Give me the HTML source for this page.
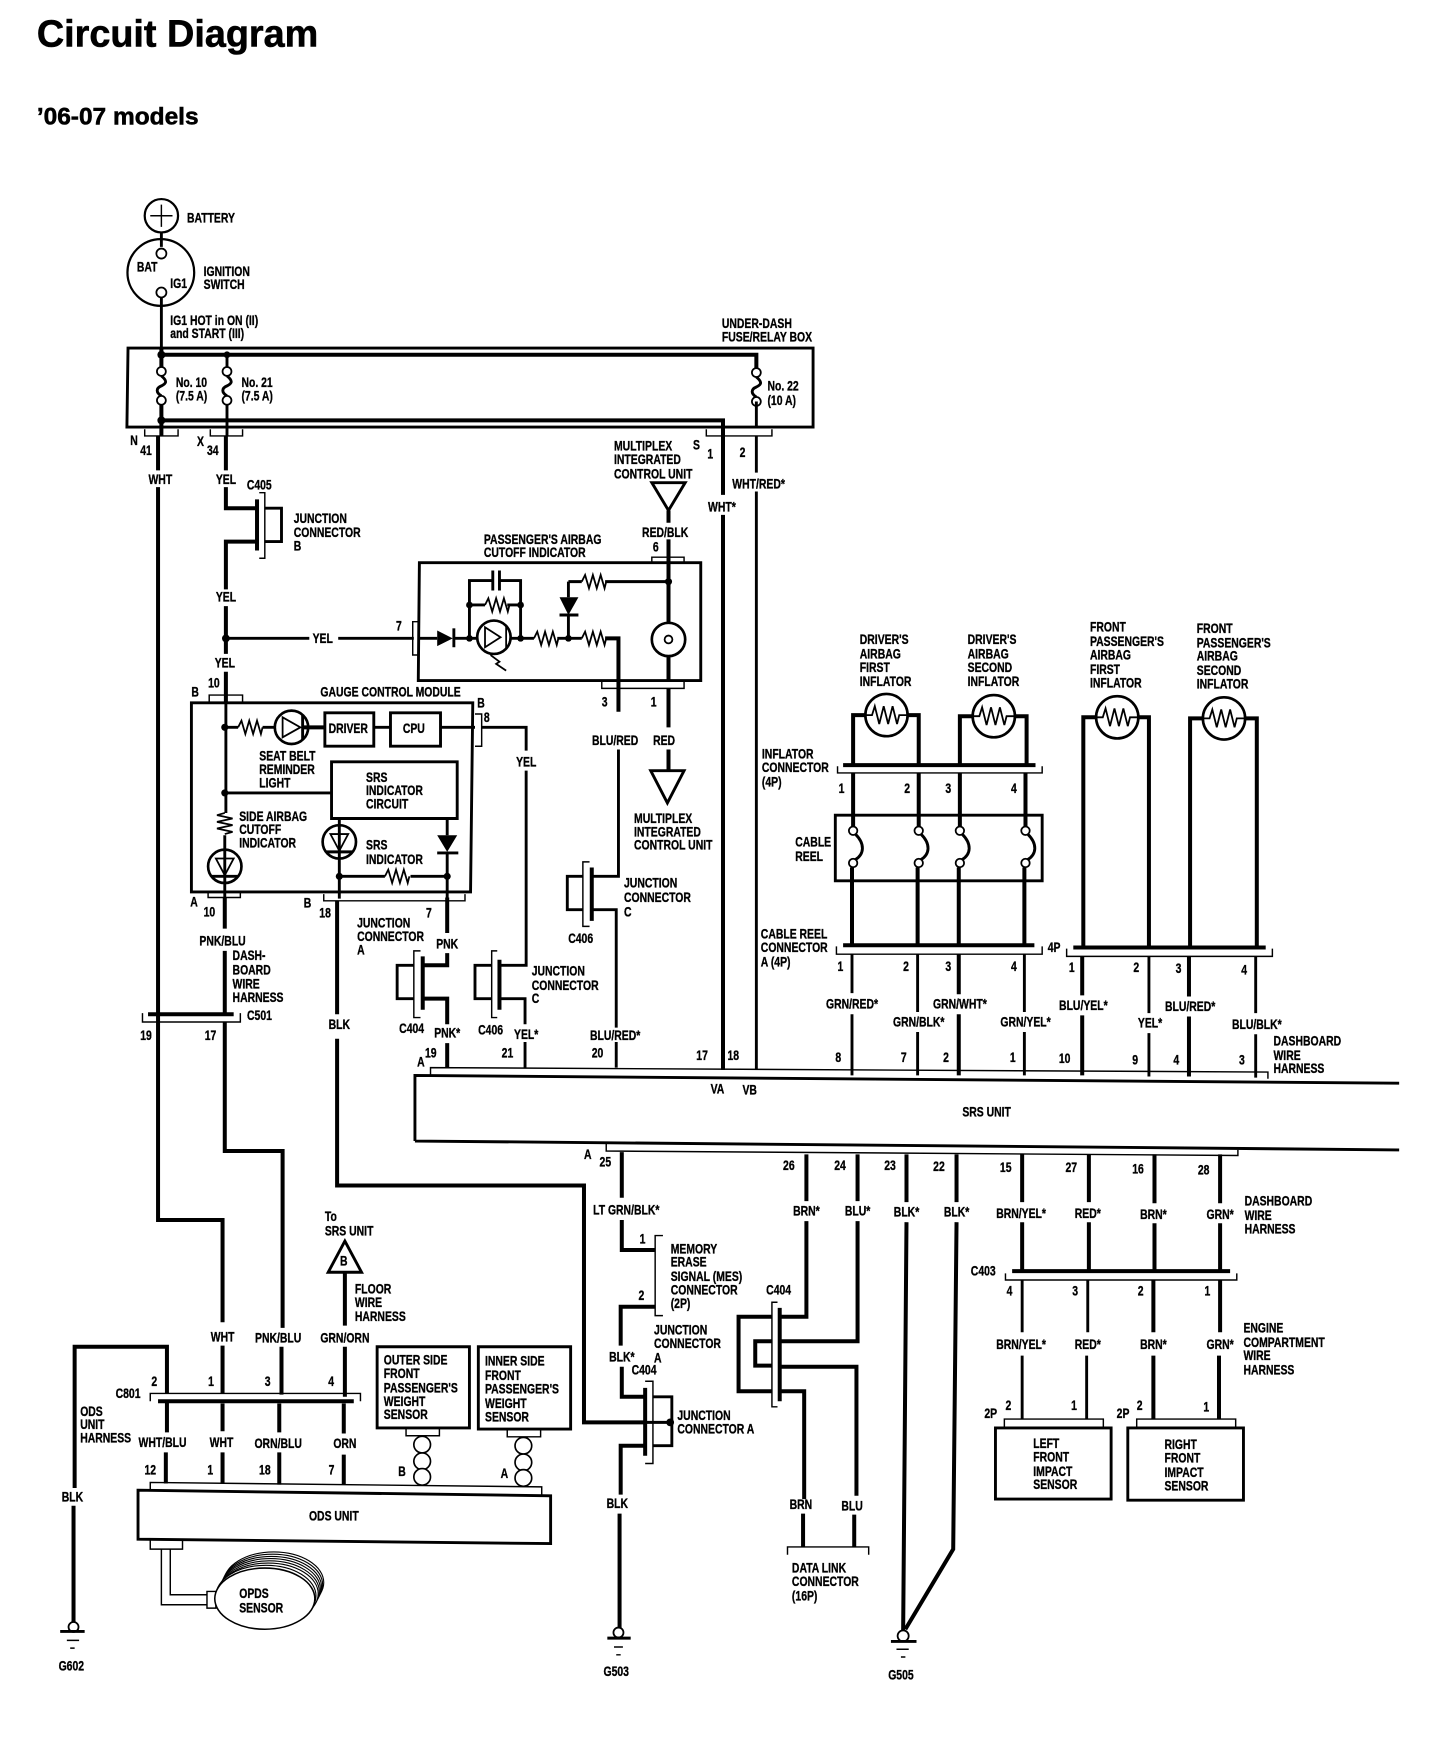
<!DOCTYPE html>
<html><head><meta charset="utf-8"><title>Circuit Diagram</title>
<style>
html,body{margin:0;padding:0;background:#fff}
svg{display:block}
text{font-family:"Liberation Sans",sans-serif;font-weight:700;font-size:12.5px;fill:#000;dominant-baseline:central;stroke:#000;stroke-width:.3px;transform-box:fill-box;transform-origin:0% 50%;transform:scaleX(.75)}
.m{text-anchor:middle;transform-origin:50% 50%}
.h{stroke-width:.5px;transform:none}
.w,.b,.t,.z{fill:none;stroke:#000}
.w{stroke-width:3.6}
.b{stroke-width:2.6}
.t{stroke-width:1.3}
.z{stroke-width:1.6}
.c{fill:#fff;stroke:#000;stroke-width:1.6}
.d{fill:#000;stroke:none}
</style></head><body>
<svg xmlns="http://www.w3.org/2000/svg" width="1456" height="1746" viewBox="0 0 1309 1570">
<defs>
<path id="r" class="z" d="M0 0l3-6 3.5 12 3.5-12 3.5 12 3.5-12 3.5 12 1.5-6"/>
<g id="f"><path class="b" d="M0 4C6 9 4 11 0 13C-5 15-5 19 0 22"/><circle class="c" r="4"/><circle class="c" cy="26" r="4"/></g>
<g id="l"><path class="b" d="M2 3C11 12 10 21 2 26"/><circle class="c" r="3.8"/><circle class="c" cy="29" r="3.8"/></g>
<g id="v"><circle r="15" fill="#fff" stroke="#000" stroke-width="2.4"/><path class="z" d="M-8-7H8L0 8Z"/><path class="b" d="M-12 9H12M0-15V15"/></g>
<g id="i"><circle r="19" fill="#fff" stroke="#000" stroke-width="2.4"/><path class="z" d="M-19 0H-13l2.500-8 4 16 4-16 4 16 4-16 4 16 2-8H19"/></g>
</defs>
<rect width="1309" height="1570" fill="#fff"/>

<!-- headings -->
<text class="h" x="33" y="31" style="font-size:34px">Circuit Diagram</text>
<text class="h" x="33" y="105" style="font-size:22px">’06-07 models</text>

<!-- battery and ignition -->
<circle class="z" cx="145" cy="194" r="15" style="stroke-width:2"/>
<path class="t" d="M145 184V204M135 194H155"/>
<ellipse class="z" cx="144.500" cy="245" rx="30" ry="30" style="stroke-width:2"/>
<path class="b" d="M145 209V222M145 265V313"/>
<circle class="c" cx="145" cy="228" r="4.500"/><circle class="c" cx="145" cy="263" r="4.500"/>
<text x="168" y="196">BATTERY</text>
<text x="123" y="240">BAT</text><text x="153" y="255">IG1</text>
<text x="183" y="244">IGNITION</text><text x="183" y="256">SWITCH</text>
<text x="153" y="288">IG1 HOT in ON (II)</text><text x="153" y="300">and START (III)</text>
<text x="649" y="291">UNDER-DASH</text><text x="649" y="303">FUSE/RELAY BOX</text>

<!-- under-dash box -->
<path class="b" d="M115 313H731V384H114Z"/>
<path class="w" d="M145 319H680V334M145 378H650V445M145 313V334M145 360V392"/>
<path class="b" d="M204 319V334M204 360V392"/>
<circle class="d" cx="145" cy="319" r="3.600"/><circle class="d" cx="204" cy="319" r="3"/><circle class="d" cx="145" cy="378" r="3.600"/>
<use href="#f" x="145" y="334"/><use href="#f" x="204" y="334"/><use href="#f" x="680" y="335"/>
<path class="b" d="M680 361V384"/>
<text x="158" y="344">No. 10</text><text x="158" y="356">(7.5 A)</text>
<text x="217" y="344">No. 21</text><text x="217" y="356">(7.5 A)</text>
<text x="690" y="347">No. 22</text><text x="690" y="360">(10 A)</text>
<path class="t" d="M130 386V392H160V386M189 386V392H218V386M635 386V392H694V386"/>
<text x="117" y="396">N</text><text x="126" y="405">41</text><text x="177" y="397">X</text><text x="186" y="405">34</text>
<text x="623" y="400">S</text><text x="636" y="408">1</text><text x="665" y="407">2</text>

<!-- main drop wires -->
<path class="w" d="M142 392V423M142 438V1097H200V1189M200 1210V1253M200 1262V1287M200 1306V1334"/>
<path class="w" d="M203 392V423M203 438V457H231M231 487H203V530M203 545V588M203 604V632"/>
<path class="w" d="M231 449V495"/><path class="t" d="M233 443H238V502H233"/><path class="b" d="M238 457H253V487H238"/>
<text class="m" x="144" y="431">WHT</text><text class="m" x="203" y="431">YEL</text>
<text class="m" x="233" y="436">C405</text>
<text x="264" y="466">JUNCTION</text><text x="264" y="479">CONNECTOR</text><text x="264" y="491">B</text>
<text class="m" x="203" y="537">YEL</text><text class="m" x="290" y="574">YEL</text><text class="m" x="202" y="596">YEL</text>
<circle class="d" cx="203" cy="574" r="3.500"/>
<path class="b" d="M203 574H278M304 574H372"/>
<path class="t" d="M376 559H371V589H376"/><text x="356" y="563">7</text>

<!-- multiplex top -->
<text x="552" y="401">MULTIPLEX</text><text x="552" y="413">INTEGRATED</text><text x="552" y="426">CONTROL UNIT</text>
<path class="b" d="M586 434H616L601 459Z"/><path class="w" d="M601 459V470M601 485V507"/>
<text class="m" x="598" y="479">RED/BLK</text><text x="587" y="492">6</text>
<path class="t" d="M586 507V501H615V507"/>
<text x="435" y="485">PASSENGER'S AIRBAG</text><text x="435" y="497">CUTOFF INDICATOR</text>
<text class="m" x="649" y="456">WHT*</text><text class="m" x="682" y="435">WHT/RED*</text>
<path class="w" d="M650 463V962"/><path class="b" d="M680 392V425M680 442V962"/>

<!-- passenger airbag indicator -->
<path class="b" d="M377 506H630V612H376Z"/>
<path class="b" d="M377 574H393M408 574H429M422 574V522H443M449 522H468V574M459 574H480"/>
<path class="d" d="M393 567L407 574L393 581Z"/><path class="b" d="M408 565V582"/>
<path class="b" d="M443 513V531M449 513V531"/>
<use href="#r" x="436" y="544"/><path class="b" d="M422 544H436M456 544H468"/>
<circle class="d" cx="422" cy="544" r="3"/><circle class="d" cx="468" cy="544" r="3"/><circle class="d" cx="422" cy="574" r="3"/><circle class="d" cx="468" cy="574" r="3"/>
<circle cx="444" cy="573" r="15" fill="#fff" stroke="#000" stroke-width="2.400"/>
<path class="z" d="M436 564L450 573L436 582ZM455 562V584"/>
<path class="z" d="M441 589L449 595L446 597L455 603"/>
<use href="#r" x="480" y="574"/><path class="b" d="M501 574H523"/><circle class="d" cx="511" cy="574" r="3"/>
<use href="#r" x="523" y="574"/><path class="w" d="M544 574H556V640"/>
<path class="b" d="M511 574V552M511 523V537M511 523H523M544 523H601"/>
<use href="#r" x="523" y="523"/>
<path class="d" d="M503 537H520L511 553Z"/><path class="b" d="M503 553H520"/>
<circle class="d" cx="601" cy="523" r="3.200"/>
<path class="w" d="M601 507V560M601 590V612"/>
<circle cx="601" cy="575" r="15" fill="#fff" stroke="#000" stroke-width="2.400"/>
<circle cx="601" cy="575" r="3.500" fill="#fff" stroke="#000" stroke-width="1.600"/>
<path class="t" d="M541 613V619H615V613"/>
<path class="w" d="M601 619V654M601 674V693"/>
<text x="541" y="631">3</text><text x="585" y="631">1</text>
<text class="m" x="553" y="666">BLU/RED</text><text class="m" x="597" y="666">RED</text>
<path class="b" d="M585 693H615L600 722Z"/>
<text x="570" y="736">MULTIPLEX</text><text x="570" y="748">INTEGRATED</text><text x="570" y="760">CONTROL UNIT</text>
<path class="b" d="M556 674V788H532M532 818H554V924M554 937V960"/>
<path class="w" d="M532 780V828"/><path class="t" d="M530 775H524V833H530"/><path class="b" d="M524 788H510V818H524"/>
<text x="561" y="794">JUNCTION</text><text x="561" y="807">CONNECTOR</text><text x="561" y="820">C</text>
<text class="m" x="522" y="844">C406</text>
<text class="m" x="553" y="931">BLU/RED*</text>

<!-- gauge control module -->
<text x="288" y="622">GAUGE CONTROL MODULE</text>
<path class="b" d="M172 632H425L423 802H172Z"/>
<path class="t" d="M188 631V625H218V631"/>
<text x="172" y="622">B</text><text x="187" y="614">10</text>
<path class="b" d="M203 625V731M202 751V765M202 793V807"/>
<circle class="d" cx="202" cy="654" r="3.200"/><circle class="d" cx="202" cy="713" r="3.200"/>
<use href="#r" x="214" y="654"/><path class="b" d="M202 654H214M236 654H247"/>
<circle cx="262" cy="654" r="15" fill="#fff" stroke="#000" stroke-width="2.400"/>
<path class="z" d="M254 645L270 654L254 663Z"/><path class="b" d="M272 643V665"/>
<path class="w" d="M272 654H292"/>
<path class="b" d="M292 641H336V671H292ZM351 641H396V671H351ZM336 654H351M396 654H427M433 654H473V675M473 693V868H449"/>
<text class="m" x="313" y="655">DRIVER</text><text class="m" x="372" y="655">CPU</text>
<path class="t" d="M427 642H433V671H427"/>
<text x="429" y="632">B</text><text x="435" y="645">8</text>
<text class="m" x="473" y="685">YEL</text>
<text x="233" y="680">SEAT BELT</text><text x="233" y="692">REMINDER</text><text x="233" y="704">LIGHT</text>
<path class="b" d="M202 713H298"/>
<path class="b" d="M298 685H411V736H298Z"/>
<text x="329" y="699">SRS</text><text x="329" y="711">INDICATOR</text><text x="329" y="723">CIRCUIT</text>
<path class="z" d="M202 731l-7 2 14 3-14 3 14 3-14 3 14 3-7 2"/>
<text x="215" y="734">SIDE AIRBAG</text><text x="215" y="746">CUTOFF</text><text x="215" y="758">INDICATOR</text>
<use href="#v" x="202" y="779"/>
<use href="#v" x="305" y="757"/>
<path class="b" d="M305 736V742M305 772V808"/>
<path class="b" d="M402 736V751M402 767V807"/>
<path class="d" d="M393 751H411L402 766Z"/><path class="b" d="M393 767H412"/>
<path class="b" d="M305 788H346M369 788H402"/><use href="#r" x="346" y="788"/>
<circle class="d" cx="305" cy="788" r="3.200"/><circle class="d" cx="402" cy="788" r="3.200"/>
<text x="329" y="760">SRS</text><text x="329" y="773">INDICATOR</text>
<path class="t" d="M187 802V807H216V802M291 804V810H418V804"/>
<text x="171" y="811">A</text><text x="183" y="820">10</text><text x="273" y="812">B</text><text x="287" y="821">18</text>
<path class="w" d="M202 807V835M202 855V912M202 919V1035H254V1194M253 1211V1254M251 1262V1288M251 1306V1335"/>
<text class="m" x="200" y="846">PNK/BLU</text>
<text x="209" y="859">DASH-</text><text x="209" y="872">BOARD</text><text x="209" y="885">WIRE</text><text x="209" y="897">HARNESS</text>
<path class="w" d="M133 912H210"/><path class="t" d="M128 911V919H216V911"/>
<text x="222" y="913">C501</text><text x="126" y="931">19</text><text x="184" y="931">17</text>

<!-- BLK long wire -->
<path class="w" d="M303 810V912M303 934V1066H525V1279H580"/>
<text class="m" x="305" y="921">BLK</text>
<text x="321" y="830">JUNCTION</text><text x="321" y="842">CONNECTOR</text><text x="321" y="854">A</text>
<text x="383" y="821">7</text>

<!-- C404 left -->
<path class="w" d="M402 807V839M402 857V868H380M380 898H402V921M402 938V960"/>
<text class="m" x="402" y="849">PNK</text><text class="m" x="402" y="929">PNK*</text>
<path class="w" d="M380 860V908"/><path class="t" d="M378 855H372V915H378"/><path class="b" d="M372 868H357V898H372"/>
<text class="m" x="370" y="925">C404</text>
<!-- C406 mid -->
<path class="w" d="M449 863V908"/><path class="t" d="M447 855H442V915H447"/><path class="b" d="M442 868H427V898H442"/>
<path class="b" d="M449 898H472V921M472 937V960"/>
<text class="m" x="441" y="926">C406</text><text class="m" x="473" y="930">YEL*</text>
<text x="478" y="873">JUNCTION</text><text x="478" y="886">CONNECTOR</text><text x="478" y="898">C</text>

<!-- SRS unit -->
<path class="b" d="M373 1026V967L1258 974M373 1026L1258 1034"/>
<path class="t" d="M387 967V960L1140 964V970M545 1027V1035L1113 1039V1034"/>
<text x="375" y="955">A</text><text x="382" y="947">19</text><text x="451" y="947">21</text><text x="532" y="947">20</text><text x="626" y="949">17</text><text x="654" y="949">18</text>
<text class="m" x="645" y="979">VA</text><text class="m" x="674" y="980">VB</text><text class="m" x="887" y="1000">SRS UNIT</text>
<text x="751" y="951">8</text><text x="810" y="951">7</text><text x="848" y="951">2</text><text x="908" y="951">1</text><text x="952" y="952">10</text><text x="1018" y="953">9</text><text x="1055" y="953">4</text><text x="1114" y="953">3</text>

<!-- inflators -->
<text x="773" y="575">DRIVER'S</text><text x="773" y="588">AIRBAG</text><text x="773" y="600">FIRST</text><text x="773" y="613">INFLATOR</text>
<text x="870" y="575">DRIVER'S</text><text x="870" y="588">AIRBAG</text><text x="870" y="600">SECOND</text><text x="870" y="613">INFLATOR</text>
<text x="980" y="564">FRONT</text><text x="980" y="577">PASSENGER'S</text><text x="980" y="589">AIRBAG</text><text x="980" y="602">FIRST</text><text x="980" y="614">INFLATOR</text>
<text x="1076" y="565">FRONT</text><text x="1076" y="578">PASSENGER'S</text><text x="1076" y="590">AIRBAG</text><text x="1076" y="603">SECOND</text><text x="1076" y="615">INFLATOR</text>
<path class="w" d="M767 688V643H826V688M863 688V644H923V688M974 852V645H1033V852M1070 852V646H1130V852"/>
<use href="#i" x="797" y="643"/><use href="#i" x="893.500" y="644"/><use href="#i" x="1004.500" y="645"/><use href="#i" x="1100.500" y="646"/>
<path class="w" d="M758 688H931"/><path class="t" d="M753 689V695H937V689"/>
<text x="685" y="678">INFLATOR</text><text x="685" y="690">CONNECTOR</text><text x="685" y="703">(4P)</text>
<text x="754" y="709">1</text><text x="813" y="709">2</text><text x="850" y="709">3</text><text x="909" y="709">4</text>
<path class="w" d="M767 695V746M826 695V746M863 695V746M922 695V746"/>
<path class="b" d="M751 733H937V792H751Z"/>
<use href="#l" x="767" y="747"/><use href="#l" x="826" y="747"/><use href="#l" x="863" y="747"/><use href="#l" x="922" y="747"/>
<text x="715" y="757">CABLE</text><text x="715" y="770">REEL</text>
<path class="w" d="M766 780V850M825 780V850M862 780V850M921 780V850"/>
<path class="w" d="M758 850H930M965 852H1138"/>
<path class="t" d="M752 851V858H937V851M959 853V860H1144V853"/>
<text x="684" y="840">CABLE REEL</text><text x="684" y="852">CONNECTOR</text><text x="684" y="865">A (4P)</text>
<text x="942" y="852">4P</text>
<text x="753" y="869">1</text><text x="812" y="869">2</text><text x="850" y="869">3</text><text x="909" y="869">4</text><text x="961" y="870">1</text><text x="1019" y="870">2</text><text x="1057" y="871">3</text><text x="1116" y="872">4</text>
<path class="b" d="M766 858V893M766 912V967M825 858V910M825 928V967M921 858V910M921 928V967M1033 860V911M1033 929V968M1129 860V911M1129 930V969"/>
<path class="w" d="M862 858V894M862 912V967M973 860V895M973 913V967M1069 860V896M1069 914V968"/>
<text class="m" x="766" y="903">GRN/RED*</text><text class="m" x="826" y="919">GRN/BLK*</text><text class="m" x="863" y="903">GRN/WHT*</text><text class="m" x="922" y="919">GRN/YEL*</text>
<text class="m" x="974" y="904">BLU/YEL*</text><text class="m" x="1034" y="920">YEL*</text><text class="m" x="1070" y="905">BLU/RED*</text><text class="m" x="1130" y="921">BLU/BLK*</text>
<text x="1145" y="936">DASHBOARD</text><text x="1145" y="949">WIRE</text><text x="1145" y="961">HARNESS</text>

<!-- bottom of SRS -->
<path class="w" d="M559 1036V1077M559 1097V1124H589M589 1175H558V1210M559 1229V1256H580M580 1300H558V1344M557 1361V1466"/>
<text x="539" y="1045">25</text><text x="525" y="1038">A</text>
<text class="m" x="563" y="1088">LT GRN/BLK*</text>
<path class="t" d="M596 1111H589V1183H596"/>
<text x="575" y="1114">1</text><text x="574" y="1165">2</text>
<text x="603" y="1123">MEMORY</text><text x="603" y="1135">ERASE</text><text x="603" y="1148">SIGNAL (MES)</text><text x="603" y="1160">CONNECTOR</text><text x="603" y="1172">(2P)</text>
<text x="588" y="1196">JUNCTION</text><text x="588" y="1208">CONNECTOR</text><text x="588" y="1221">A</text>
<text class="m" x="559" y="1220">BLK*</text><text class="m" x="579" y="1232">C404</text>
<path class="w" d="M580 1248V1309"/><path class="t" d="M580 1242H587V1316H580"/>
<path class="b" d="M587 1256H604V1300H587M580 1279H604"/><circle class="d" cx="602.500" cy="1279" r="3.500"/>
<text x="609" y="1273">JUNCTION</text><text x="609" y="1285">CONNECTOR A</text>
<text class="m" x="555" y="1352">BLK</text>
<circle class="c" cx="556" cy="1468" r="4.500"/><path class="b" d="M546 1473H567"/><path class="t" d="M552 1481H560M554 1488H558"/>
<text class="m" x="554" y="1503">G503</text>

<!-- C404 right and data link -->
<text x="704" y="1048">26</text><text x="750" y="1048">24</text><text x="795" y="1048">23</text><text x="839" y="1049">22</text>
<path class="w" d="M725 1038V1080M725 1098V1184H701M771 1038V1080M771 1098V1206H701M701 1229H770V1345M701 1251H723V1348"/>
<text class="m" x="725" y="1089">BRN*</text><text class="m" x="771" y="1089">BLU*</text><text class="m" x="815" y="1090">BLK*</text><text class="m" x="860" y="1090">BLK*</text>
<path class="w" d="M701 1176V1260"/><path class="t" d="M699 1171H694V1265H699"/>
<path class="w" d="M694 1184H664V1251H694M694 1206H679V1228H694"/>
<text class="m" x="700" y="1160">C404</text>
<path class="w" d="M722 1361V1391M768 1362V1391"/>
<text class="m" x="720" y="1353">BRN</text><text class="m" x="766" y="1354">BLU</text>
<path class="t" d="M708 1398V1391H781V1398"/>
<text x="712" y="1410">DATA LINK</text><text x="712" y="1422">CONNECTOR</text><text x="712" y="1435">(16P)</text>
<path class="w" d="M815 1038V1081M815 1099L812 1466M860 1038V1081M860 1099L857 1393L814 1465"/>
<circle class="c" cx="812" cy="1471" r="5"/><path class="b" d="M801 1476H824"/><path class="t" d="M806 1483H817M810 1490H814"/>
<text class="m" x="810" y="1506">G505</text>

<!-- impact sensors -->
<text x="899" y="1050">15</text><text x="958" y="1050">27</text><text x="1018" y="1051">16</text><text x="1077" y="1052">28</text>
<path class="w" d="M919 1038V1081M919 1099V1143M979 1038V1081M979 1099V1143M1038 1038V1082M1038 1100V1143M1097 1038V1082M1097 1100V1143"/>
<text class="m" x="918" y="1091">BRN/YEL*</text><text class="m" x="978" y="1091">RED*</text><text class="m" x="1037" y="1092">BRN*</text><text class="m" x="1097" y="1092">GRN*</text>
<text x="1119" y="1080">DASHBOARD</text><text x="1119" y="1093">WIRE</text><text x="1119" y="1105">HARNESS</text>
<path class="w" d="M910 1143H1106"/><path class="t" d="M904 1145V1151H1112V1145"/>
<text class="m" x="884" y="1143">C403</text>
<text x="905" y="1161">4</text><text x="964" y="1161">3</text><text x="1023" y="1161">2</text><text x="1083" y="1161">1</text>
<path class="b" d="M919 1151V1198M919 1219V1276M978 1151V1198M977 1219V1276"/>
<path class="w" d="M1037 1151V1198M1037 1219V1276M1097 1151V1198M1096 1219V1276"/>
<text class="m" x="918" y="1209">BRN/YEL*</text><text class="m" x="978" y="1209">RED*</text><text class="m" x="1037" y="1209">BRN*</text><text class="m" x="1097" y="1209">GRN*</text>
<text x="1118" y="1194">ENGINE</text><text x="1118" y="1207">COMPARTMENT</text><text x="1118" y="1219">WIRE</text><text x="1118" y="1232">HARNESS</text>
<path class="t" d="M903 1283V1276H992V1283M1022 1283V1276H1111V1283"/>
<path class="b" d="M895 1284H999V1348H895ZM1014 1284H1118V1349H1014Z"/>
<text x="904" y="1264">2</text><text x="963" y="1264">1</text><text x="1022" y="1264">2</text><text x="1082" y="1265">1</text>
<text x="885" y="1271">2P</text><text x="1004" y="1271">2P</text>
<text x="929" y="1298">LEFT</text><text x="929" y="1310">FRONT</text><text x="929" y="1323">IMPACT</text><text x="929" y="1335">SENSOR</text>
<text x="1047" y="1299">RIGHT</text><text x="1047" y="1311">FRONT</text><text x="1047" y="1324">IMPACT</text><text x="1047" y="1336">SENSOR</text>

<!-- ODS region -->
<text x="292" y="1094">To</text><text x="292" y="1107">SRS UNIT</text>
<path class="b" d="M310 1116L325 1144H295Z"/><text class="m" x="309" y="1134">B</text>
<path class="w" d="M310 1144V1192M310 1211V1256M309 1262V1289M309 1308V1335"/>
<text x="319" y="1159">FLOOR</text><text x="319" y="1171">WIRE</text><text x="319" y="1184">HARNESS</text>
<text class="m" x="200" y="1202">WHT</text><text class="m" x="250" y="1203">PNK/BLU</text><text class="m" x="310" y="1203">GRN/ORN</text>
<path class="w" d="M67 1338V1211H150V1253M150 1261V1288M149 1306V1334"/>
<path class="w" d="M66 1354V1459"/>
<path class="t" d="M135 1260V1253H324V1260"/>
<path class="w" d="M142 1260H318"/>
<text class="m" x="115" y="1253">C801</text>
<text x="136" y="1242">2</text><text x="187" y="1242">1</text><text x="238" y="1242">3</text><text x="295" y="1242">4</text>
<text x="72" y="1269">ODS</text><text x="72" y="1281">UNIT</text><text x="72" y="1293">HARNESS</text>
<text class="m" x="146" y="1297">WHT/BLU</text><text class="m" x="199" y="1297">WHT</text><text class="m" x="250" y="1298">ORN/BLU</text><text class="m" x="310" y="1298">ORN</text>
<text class="m" x="135" y="1322">12</text><text class="m" x="189" y="1322">1</text><text class="m" x="238" y="1322">18</text><text class="m" x="298" y="1322">7</text>
<text class="m" x="65" y="1346">BLK</text>
<circle class="c" cx="66" cy="1463" r="4.500"/><path class="b" d="M54 1467H76"/><path class="t" d="M60 1475H71M63 1482H67"/>
<text class="m" x="64" y="1498">G602</text>

<path class="b" d="M339 1211H422V1284H339ZM430 1211H513V1285H430Z"/>
<text x="345" y="1223">OUTER SIDE</text><text x="345" y="1235">FRONT</text><text x="345" y="1248">PASSENGER'S</text><text x="345" y="1260">WEIGHT</text><text x="345" y="1272">SENSOR</text>
<text x="436" y="1224">INNER SIDE</text><text x="436" y="1237">FRONT</text><text x="436" y="1249">PASSENGER'S</text><text x="436" y="1262">WEIGHT</text><text x="436" y="1274">SENSOR</text>
<path class="t" d="M365 1285V1291H395V1285M456 1286V1292H486V1286"/>
<g fill="#fff" stroke="#000" stroke-width="1.500"><circle cx="379.500" cy="1299" r="7.500"/><circle cx="379.500" cy="1314" r="7.500"/><circle cx="379.500" cy="1328" r="7.500"/><circle cx="470.500" cy="1300" r="7.500"/><circle cx="470.500" cy="1315" r="7.500"/><circle cx="470.500" cy="1329" r="7.500"/></g>
<text x="358" y="1323">B</text><text x="450" y="1325">A</text>
<path class="t" d="M135 1340V1333L487 1337V1344"/>
<path class="b" d="M124 1340L495 1345V1388L124 1384Z"/>
<text class="m" x="300" y="1363">ODS UNIT</text>
<path class="t" d="M135 1385V1393H164V1385M145 1393V1443H186M153 1393V1434H186M186 1431H194V1446H186Z"/>
<g fill="#fff" stroke="#000" stroke-width="1"><ellipse cx="246" cy="1423" rx="45" ry="27.500"/><ellipse cx="245" cy="1425" rx="45" ry="27.500"/><ellipse cx="244" cy="1427" rx="45" ry="27.500"/><ellipse cx="243" cy="1429" rx="45" ry="27.500"/><ellipse cx="242" cy="1431" rx="45" ry="27.500"/><ellipse cx="241" cy="1433" rx="45" ry="27.500"/><ellipse cx="239" cy="1435" rx="45" ry="27.500"/><ellipse cx="238" cy="1437.500" rx="45" ry="27.500" stroke-width="1.400"/></g>
<text x="215" y="1433">OPDS</text><text x="215" y="1446">SENSOR</text>
</svg>
</body></html>
